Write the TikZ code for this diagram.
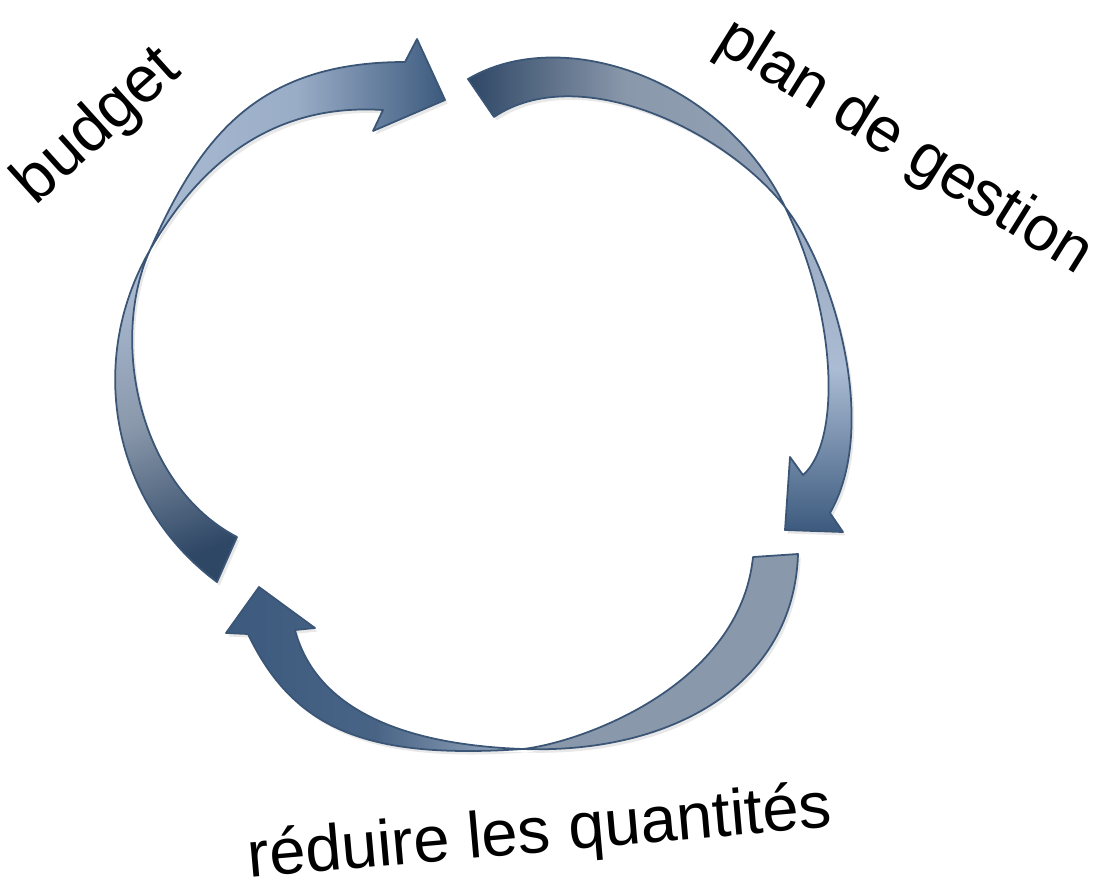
\documentclass[tikz,border=0pt]{standalone}
\usepackage{fontspec}
\setmainfont{Liberation Sans}
\usetikzlibrary{shadows}

\definecolor{cycdark}{HTML}{2E4765}
\definecolor{cychead}{HTML}{3C5A7E}
\definecolor{cyclight}{HTML}{AABBD3}
\definecolor{cycgray}{HTML}{8A98AB}
\definecolor{cycline}{HTML}{3A5575}

\tikzset{
  lobe/.style={draw=cycline, line width=1pt, line join=round,
    drop shadow={opacity=0.18, shadow xshift=1.5pt, shadow yshift=-2pt}},
  cyclabel/.style={font=\fontsize{37pt}{44pt}\selectfont, inner sep=0pt}
}

\begin{document}
\begin{tikzpicture}[x=0.02cm, y=-0.02cm]
  \useasboundingbox (0,0) rectangle (1103,890);

  % left arrow, lower part
  \draw[lobe, top color=cyclight, bottom color=cycdark, middle color=cycgray, shading angle=20]
    (217,582) .. controls (113,505) and (85,363) .. (150,250)
    .. controls (109,341) and (139,486) .. (237,537) -- cycle;
  % left arrow, upper part with head
  \draw[lobe, left color=cyclight, right color=cychead, middle color=cyclight!85!cychead]
    (150,250) .. controls (199,140) and (255,62) .. (405,62)
    -- (417,39) -- (445,100) -- (373,131) -- (383,110)
    .. controls (273,103) and (200,163) .. (150,250) -- cycle;

  % right arrow, upper part
  \draw[lobe, left color=cycdark, right color=cycgray!70!cyclight, middle color=cycgray]
    (494,117) .. controls (577,61) and (723,128) .. (785,207)
    .. controls (724,80) and (563,23) .. (468,79) -- cycle;
  % right arrow, lower part with head
  \draw[lobe, top color=cycgray!50!cyclight, bottom color=cychead, middle color=cyclight]
    (785,207) .. controls (834,270) and (880,426) .. (830,513)
    -- (843,532) -- (785,530) -- (790,457) -- (803,475)
    .. controls (841,442) and (838,316) .. (785,207) -- cycle;

  % bottom arrow, right part
  \draw[lobe, fill=cycgray]
    (798,554) .. controls (794,684) and (673,754) .. (523,749)
    .. controls (583,742) and (740,685) .. (753,557) -- cycle;
  % bottom arrow, left part with head
  \draw[lobe, left color=cychead, right color=cyclight!60!cycgray, middle color=cychead!85!cycgray]
    (523,749) .. controls (373,759) and (295,733) .. (248,634)
    -- (226,633) -- (259,587) -- (315,628) -- (295,630)
    .. controls (313,698) and (383,744) .. (523,749) -- cycle;

  % labels
  \node[cyclabel, rotate=42] (budget) at (98,127) {budget};
  \node[cyclabel, rotate=-32, font=\fontsize{36pt}{43pt}\selectfont] (plan) at (904,148) {plan de gestion};
  \node[cyclabel, rotate=5] (reduire) at (540,835) {réduire les quantités};
\end{tikzpicture}
\end{document}
